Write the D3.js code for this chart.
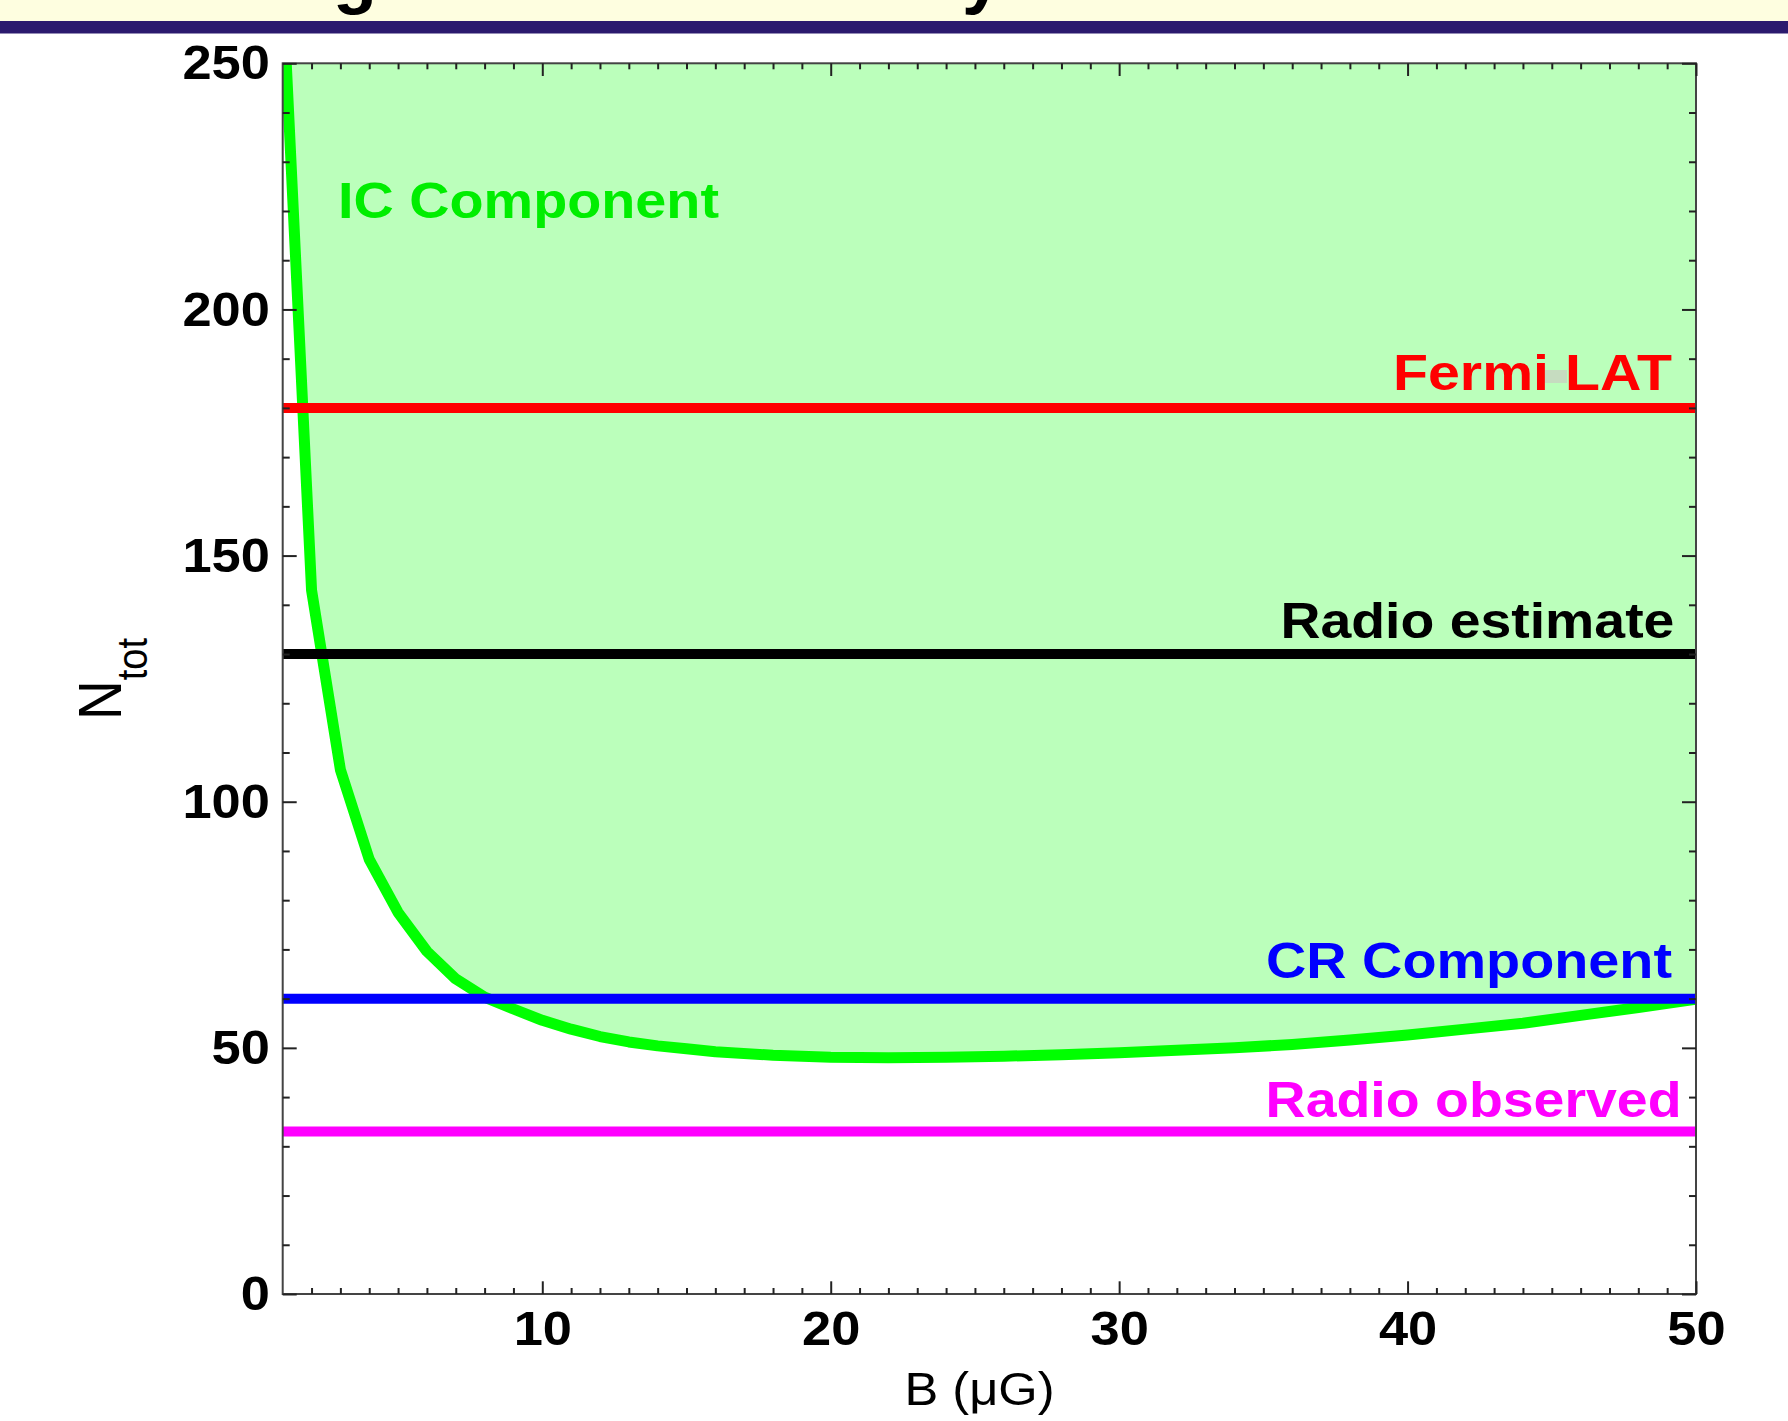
<!DOCTYPE html>
<html lang="en">
<head>
    <meta charset="utf-8">
    <title>N_tot vs B</title>
    <style>
        body {
            margin: 0;
            background: #fff;
        }
        svg text {
            font-family: "Liberation Sans", Arial, Helvetica, sans-serif;
        }
    </style>
</head>
<body>
<svg class="chart"></svg>
<script src="https://d3js.org/d3.v7.min.js"></script>
<script>
    // IC component curve at each B (uG)
    const icB = [1, 2, 3, 4, 5, 6, 7, 8, 9, 10, 11, 12, 13, 14, 15, 16, 18, 20, 22, 24, 26, 28, 30, 32, 34, 36, 38, 40, 42, 44, 46, 48, 50];
    const icN = [265, 143, 106.5, 88.3, 77.5, 69.6, 64.0, 60.3, 57.9, 55.6, 53.8, 52.3, 51.2, 50.4, 49.8, 49.2, 48.5, 48.1, 48.0, 48.1, 48.3, 48.6, 49.0, 49.5, 50.0, 50.7, 51.6, 52.6, 53.8, 55.0, 56.6, 58.2, 59.9];

    // horizontal reference levels
    const refNames = ["Fermi LAT", "Radio estimate", "CR Component", "Radio observed"];
    const refValues = [180, 130, 60, 33];
    const refColors = ["#ff0000", "#000000", "#0000ff", "#ff00ff"];

    const xTicks = [10, 20, 30, 40, 50];
    const yTicks = [0, 50, 100, 150, 200, 250];

    const W = 1788, H = 1421;
    const svg = d3.select("svg").attr("width", W).attr("height", H);

    // banner at the top (cut-off slide title, only descenders show)
    svg.append("rect").attr("x", 0).attr("y", 0).attr("width", W).attr("height", 21).attr("fill", "#fefee0");
    svg.append("text").attr("x", 333).attr("y", 0).attr("font-size", 72).attr("font-weight", "bold").text("g");
    svg.append("text").attr("x", 962).attr("y", 0).attr("font-size", 72).attr("font-weight", "bold").text("y");
    svg.append("rect").attr("x", 0).attr("y", 21).attr("width", W).attr("height", 12.5).attr("fill", "#2b1a6e");

    const x = d3.scaleLinear().domain([1, 50]).range([282.7, 1696]);
    const y = d3.scaleLinear().domain([0, 250]).range([1294, 63.3]);

    const icData = icB.map((b, i) => ({b: b, n: icN[i]}));

    svg.append("clipPath").attr("id", "plot")
        .append("rect")
        .attr("x", x(1)).attr("y", y(250))
        .attr("width", x(50) - x(1)).attr("height", y(0) - y(250));

    const g = svg.append("g").attr("clip-path", "url(#plot)");

    // shaded region above IC curve
    g.append("path")
        .datum(icData)
        .attr("fill", "#bbffbb")
        .attr("d", d3.area().x(d => x(d.b)).y0(y(250)).y1(d => y(d.n)));

    g.append("path")
        .datum(icData)
        .attr("fill", "none")
        .attr("stroke", "#00ff00")
        .attr("stroke-width", 11)
        .attr("stroke-linejoin", "round")
        .attr("d", d3.line().x(d => x(d.b)).y(d => y(d.n)));

    // reference lines
    g.selectAll(".ref")
        .data(refValues)
        .enter()
        .append("line")
        .attr("class", "ref")
        .attr("x1", x(1)).attr("x2", x(50))
        .attr("y1", d => y(d)).attr("y2", d => y(d))
        .attr("stroke", (d, i) => refColors[i])
        .attr("stroke-width", 10);

    // small grey blot next to "Fermi LAT" in the original
    svg.append("rect").attr("x", 1545).attr("y", 370).attr("width", 22).attr("height", 13).attr("fill", "#c6dcc0");

    // frame
    svg.append("rect")
        .attr("x", x(1)).attr("y", y(250))
        .attr("width", x(50) - x(1)).attr("height", y(0) - y(250))
        .attr("fill", "none").attr("stroke", "#444").attr("stroke-width", 2);

    const minorX = d3.range(2, 50).filter(v => v % 10 !== 0);
    const minorY = d3.range(10, 250, 10).filter(v => v % 50 !== 0);
    const stretch = "scale(1.07,1)";

    function styleAxis(sel) {
        sel.select(".domain").remove();
        sel.selectAll("line").attr("stroke", "#222").attr("stroke-width", 2);
        sel.selectAll("text")
            .attr("font-size", 49)
            .attr("font-weight", "bold")
            .attr("fill", "#000")
            .attr("transform", stretch);
    }

    // bottom
    svg.append("g").attr("transform", "translate(0," + y(0) + ")")
        .call(d3.axisBottom(x).tickValues(xTicks).tickSizeInner(-12.7).tickSizeOuter(0).tickPadding(16))
        .call(styleAxis);
    svg.append("g").attr("transform", "translate(0," + y(0) + ")")
        .call(d3.axisBottom(x).tickValues(minorX).tickSize(-6).tickFormat(""))
        .call(styleAxis);
    // top
    svg.append("g").attr("transform", "translate(0," + y(250) + ")")
        .call(d3.axisTop(x).tickValues(xTicks).tickSize(-12.7).tickFormat(""))
        .call(styleAxis);
    svg.append("g").attr("transform", "translate(0," + y(250) + ")")
        .call(d3.axisTop(x).tickValues(minorX).tickSize(-6).tickFormat(""))
        .call(styleAxis);
    // left
    svg.append("g").attr("transform", "translate(" + x(1) + ",0)")
        .call(d3.axisLeft(y).tickValues(yTicks).tickSizeInner(-14).tickSizeOuter(0).tickPadding(12))
        .call(styleAxis);
    svg.append("g").attr("transform", "translate(" + x(1) + ",0)")
        .call(d3.axisLeft(y).tickValues(minorY).tickSize(-7).tickFormat(""))
        .call(styleAxis);
    // right
    svg.append("g").attr("transform", "translate(" + x(50) + ",0)")
        .call(d3.axisRight(y).tickValues(yTicks).tickSize(-14).tickFormat(""))
        .call(styleAxis);
    svg.append("g").attr("transform", "translate(" + x(50) + ",0)")
        .call(d3.axisRight(y).tickValues(minorY).tickSize(-7).tickFormat(""))
        .call(styleAxis);

    // line labels: right edge offset from x(50), baseline offset above the line, drawn width
    const labelLayout = [
        {dx: -24, dy: -18, w: 279},
        {dx: -21.6, dy: -16, w: 394},
        {dx: -24, dy: -20.7, w: 406},
        {dx: -14.4, dy: -15, w: 416}
    ];
    svg.selectAll(".reflabel")
        .data(refNames)
        .enter()
        .append("text")
        .attr("class", "reflabel")
        .attr("x", (d, i) => x(50) + labelLayout[i].dx - labelLayout[i].w)
        .attr("y", (d, i) => y(refValues[i]) + labelLayout[i].dy)
        .attr("textLength", (d, i) => labelLayout[i].w)
        .attr("lengthAdjust", "spacingAndGlyphs")
        .attr("font-size", 50)
        .attr("font-weight", "bold")
        .attr("fill", (d, i) => refColors[i])
        .text(d => d);

    svg.append("text")
        .attr("x", 338)
        .attr("y", 218.3)
        .attr("textLength", 381)
        .attr("lengthAdjust", "spacingAndGlyphs")
        .attr("font-size", 50)
        .attr("font-weight", "bold")
        .attr("fill", "#00ee00")
        .text("IC Component");

    // axis titles
    svg.append("text")
        .attr("transform", "translate(979.5,1405) scale(1.1,1)")
        .attr("text-anchor", "middle")
        .attr("font-size", 46)
        .attr("fill", "#000")
        .text("B (\u03bcG)");

    const yTitle = svg.append("text")
        .attr("transform", "translate(121,720) scale(1.1,1) rotate(-90)")
        .attr("font-size", 55)
        .attr("fill", "#000");
    yTitle.append("tspan").text("N");
    yTitle.append("tspan").attr("dy", 24).attr("font-size", 38).text("tot");
</script>
</body>
</html>
